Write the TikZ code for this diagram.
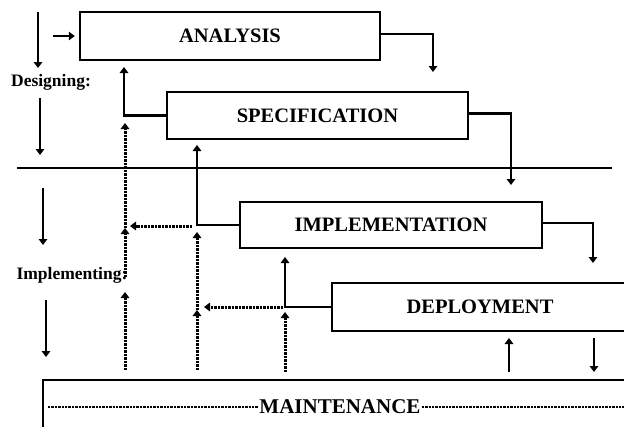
\documentclass[tikz,border=0pt]{standalone}
\usepackage{fontspec}
\setmainfont{Liberation Serif}
\usetikzlibrary{arrows.meta}
\begin{document}
\begin{tikzpicture}[x=1pt,y=-1pt,
  stagebox/.style={draw, line width=2.4pt, rectangle, inner sep=0pt,
    font=\fontsize{20.5}{24}\selectfont\bfseries},
  link/.style={line width=2.2pt},
  arr/.style={line width=2.2pt, -{Triangle[length=6pt,width=8.5pt]}},
  dotarr/.style={line width=3pt, dash pattern=on 2.4pt off 1.1pt,
    -{Triangle[length=6pt,width=8.5pt]}},
  dotline/.style={line width=2.2pt, dash pattern=on 2.4pt off 1pt},
  phase/.style={font=\fontsize{17.5}{20}\selectfont\bfseries, inner sep=1pt},
]
\useasboundingbox (0,0) rectangle (624,426);
\clip (0,0) rectangle (624,426);

% stage boxes
\node[stagebox, minimum width=300pt, minimum height=48pt] (ana) at (230,36) {ANALYSIS};
\node[stagebox, minimum width=301pt, minimum height=47pt] (spec) at (317.5,115.5) {SPECIFICATION};
\node[stagebox, minimum width=302pt, minimum height=46pt] (impl) at (391,225) {IMPLEMENTATION};
\node[stagebox, minimum width=296pt, minimum height=48pt] (depl) at (480,307) {DEPLOYMENT};
\node[stagebox, minimum width=657pt, minimum height=80pt] (maint) at (371.5,420) {};
\node[font=\fontsize{21}{24}\selectfont\bfseries, inner sep=1pt] (mtext) at (340,407) {MAINTENANCE};
\coordinate (mleft) at (48,407);
\coordinate (mright) at (630,407);
\draw[dotline] (mleft) -- (mtext.west);
\draw[dotline] (mtext.east) -- (mright);

% phase separator
\coordinate (sepl) at (17,168);
\coordinate (sepr) at (612,168);
\draw[link] (sepl) -- (sepr);

% phase labels and their arrows
\node[phase] (des) at (51,82) {Designing:};
\node[phase] (imp) at (72,275) {Implementing:};
\coordinate (d1a) at (38,12);  \coordinate (d1b) at (38,68);
\coordinate (d2a) at (40,98);  \coordinate (d2b) at (40,155);
\coordinate (i1a) at (43,188); \coordinate (i1b) at (43,245);
\coordinate (i2a) at (46,300); \coordinate (i2b) at (46,357);
\draw[arr] (d1a) -- (d1b);
\draw[arr] (d2a) -- (d2b);
\draw[arr] (i1a) -- (i1b);
\draw[arr] (i2a) -- (i2b);
\coordinate (inA) at (53,36);
\draw[arr] (inA) -- ([xshift=-4pt]ana.west);

% forward flow
\coordinate (a2s) at (433,72);
\coordinate (s2i) at (511,185);
\coordinate (i2d) at (593,263);
\draw[arr] ([yshift=2pt]ana.east) -| (a2s);
\draw[arr] ([yshift=2pt]spec.east) -| (s2i);
\draw[arr] ([yshift=2pt]impl.east) -| (i2d);

% feedback flow
\coordinate (s2a) at (124,67);
\coordinate (i2s) at (197,145);
\coordinate (d2i) at (285,257);
\draw[arr] (spec.west) -| (s2a);
\draw[arr] (impl.west) -| (i2s);
\draw[arr] (depl.west) -| (d2i);

% deployment <-> maintenance
\coordinate (dmUp0) at (509,372); \coordinate (dmUp1) at (509,338);
\coordinate (dmDn0) at (594,338); \coordinate (dmDn1) at (594,372);
\draw[arr] (dmUp0) -- (dmUp1);
\draw[arr] (dmDn0) -- (dmDn1);

% maintenance feedback (dotted)
\coordinate (pA0) at (125,370); \coordinate (pA1) at (125,292);
\coordinate (pA2) at (125,277); \coordinate (pA3) at (125,228);
\coordinate (pA4) at (125,123);
\coordinate (pB0) at (197,370); \coordinate (pB1) at (197,310);
\coordinate (pB2) at (197,232);
\coordinate (pC0) at (285,372); \coordinate (pC1) at (285,312);
\coordinate (hA0) at (192,226); \coordinate (hA1) at (130,226);
\coordinate (hB0) at (283,307); \coordinate (hB1) at (204,307);
\draw[dotarr] (pA0) -- (pA1);
\draw[dotarr] (pA2) -- (pA3);
\draw[dotarr] (pA3) -- (pA4);
\draw[dotarr] (pB0) -- (pB1);
\draw[dotarr] (pB1) -- (pB2);
\draw[dotarr] (pC0) -- (pC1);
\draw[dotarr] (hA0) -- (hA1);
\draw[dotarr] (hB0) -- (hB1);
\end{tikzpicture}
\end{document}
